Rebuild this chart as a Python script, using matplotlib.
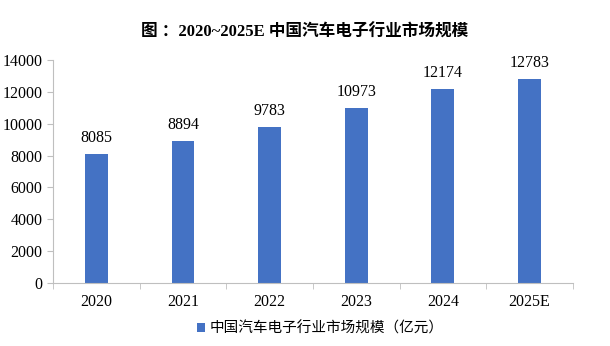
import matplotlib.pyplot as plt
import numpy as np

years = ['2020', '2021', '2022', '2023', '2024', '2025E']
market = [8085, 8894, 9783, 10973, 12174, 12783]

plt.rcParams['font.family'] = ['Liberation Serif', 'Noto Sans CJK SC']

fig = plt.figure(figsize=(6.1, 3.46), dpi=100)
ax = fig.add_axes([0.087, 0.182, 0.852, 0.645])

x = np.arange(len(years))
bars = ax.bar(x, market, width=0.265, color='#4472C4',
              label='中国汽车电子行业市场规模（亿元）')
for xi, v in zip(x, market):
    ax.text(xi, v + 500, str(v), ha='center', va='bottom', fontsize=11.5)

ax.set_xlim(-0.5, len(years) - 0.5)
ax.set_ylim(0, 14000)
ax.set_yticks(range(0, 14001, 2000))
ax.set_xticks(x)
ax.set_xticklabels(years)
ax.set_xticks(np.arange(-0.5, len(years)), minor=True)
ax.tick_params(axis='x', which='major', length=0, pad=8, labelsize=11.5)
ax.tick_params(axis='x', which='minor', length=4, color='#BFBFBF')
ax.tick_params(axis='y', length=4, color='#BFBFBF', labelsize=11.5)

for s in ['top', 'right']:
    ax.spines[s].set_visible(False)
ax.spines['left'].set_color('#BFBFBF')
ax.spines['bottom'].set_color('#BFBFBF')

fig.text(0.5, 0.905, '图 ：2020~2025E 中国汽车电子行业市场规模', ha='center',
         va='center', fontsize=12, fontweight='bold',
         family=['Liberation Serif', 'Noto Sans CJK SC'])

leg = fig.legend(loc='center', bbox_to_anchor=(0.525, 0.05), frameon=False,
                 prop={'family': ['Noto Sans CJK SC'], 'size': 10.5},
                 handlelength=0.6, handleheight=0.6, handletextpad=0.3)

fig.savefig('out.png', dpi=100)
